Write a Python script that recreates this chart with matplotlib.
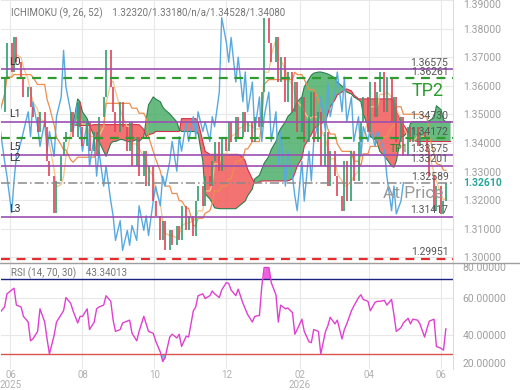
import numpy as np
import pandas as pd
import matplotlib
matplotlib.use('Agg')
import matplotlib.pyplot as plt
from matplotlib.lines import Line2D
from matplotlib.transforms import blended_transform_factory

plt.rcParams['font.family'] = ['Roboto', 'DejaVu Sans']

# closes, one point every 2 trading days
close = [1.3509, 1.3630, 1.3751, 1.3648, 1.3769, 1.3682, 1.3630, 1.3561, 1.3596, 1.3526,
         1.3492, 1.3440, 1.3509, 1.3457, 1.3336, 1.3284, 1.3156, 1.3267, 1.3353, 1.3405,
         1.3440, 1.3509, 1.3422, 1.3544, 1.3457, 1.3388, 1.3474, 1.3371, 1.3440, 1.3353,
         1.3492, 1.3561, 1.3724, 1.3596, 1.3509, 1.3440, 1.3544, 1.3457, 1.3371, 1.3474,
         1.3319, 1.3422, 1.3284, 1.3371, 1.3249, 1.3319, 1.3197, 1.3145, 1.3059, 1.3128,
         1.3024, 1.3094, 1.3042, 1.3111, 1.3059, 1.3180, 1.3094, 1.3145, 1.3076, 1.3197,
         1.3249, 1.3180, 1.3284, 1.3249, 1.3336, 1.3405, 1.3301, 1.3422, 1.3371, 1.3474,
         1.3405, 1.3492, 1.3422, 1.3509, 1.3440, 1.3474, 1.3405, 1.3492, 1.3457, 1.3578,
         1.3838, 1.3751, 1.3682, 1.3769, 1.3613, 1.3700, 1.3544, 1.3648, 1.3509, 1.3613,
         1.3440, 1.3561, 1.3405, 1.3492, 1.3578, 1.3405, 1.3509, 1.3319, 1.3440, 1.3249,
         1.3371, 1.3284, 1.3215, 1.3163, 1.3336, 1.3197, 1.3371, 1.3267, 1.3405, 1.3474,
         1.3561, 1.3440, 1.3613, 1.3492, 1.3578, 1.3648, 1.3509, 1.3630, 1.3474, 1.3561,
         1.3405, 1.3492, 1.3353, 1.3457, 1.3405, 1.3457, 1.3388, 1.3440, 1.3422, 1.3371,
         1.3284, 1.3163, 1.3249, 1.3152, 1.3197, 1.3261]

# ichimoku cloud edges as drawn (already displaced), same spacing, one extra point
nan = np.nan
span_a = [nan] * 22 + [
    1.3464, 1.3554, 1.3544, 1.3509, 1.3485, 1.3461, 1.3422, 1.3412, 1.3405, 1.3371,
    1.3353, 1.3398, 1.3405, 1.3405, 1.3412, 1.3412, 1.3405, 1.3405, 1.3405, 1.3412,
    1.3405, 1.3422, 1.3481, 1.3533, 1.3561, 1.3554, 1.3544, 1.3526, 1.3516, 1.3502,
    1.3492, 1.3474, 1.3447, 1.3440, 1.3440, 1.3440, 1.3440, 1.3440, 1.3433, 1.3336,
    1.3222, 1.3204, 1.3190, 1.3173, 1.3170, 1.3170, 1.3170, 1.3170, 1.3170, 1.3170,
    1.3177, 1.3190, 1.3197, 1.3215, 1.3239, 1.3274, 1.3287, 1.3308, 1.3329, 1.3353,
    1.3377, 1.3405, 1.3433, 1.3450, 1.3474, 1.3492, 1.3509, 1.3526, 1.3544, 1.3561,
    1.3596, 1.3623, 1.3637, 1.3644, 1.3648, 1.3648, 1.3644, 1.3641, 1.3637, 1.3627,
    1.3613, 1.3599, 1.3589, 1.3578, 1.3571, 1.3561, 1.3551, 1.3544, 1.3502, 1.3457,
    1.3422, 1.3412, 1.3398, 1.3371, 1.3353, 1.3343, 1.3319, 1.3315, 1.3336, 1.3422,
    1.3422, 1.3440, 1.3468, 1.3474, 1.3474, 1.3474, 1.3474, 1.3474, 1.3478, 1.3488,
    1.3530, 1.3516, 1.3481, 1.3474, 1.3474]
span_b = [nan] * 22 + [
    1.3464, 1.3461, 1.3461, 1.3461, 1.3461, 1.3461, 1.3464, 1.3464, 1.3464, 1.3464,
    1.3464, 1.3464, 1.3464, 1.3464, 1.3464, 1.3464, 1.3464, 1.3464, 1.3464, 1.3464,
    1.3464, 1.3447, 1.3422, 1.3429, 1.3433, 1.3440, 1.3440, 1.3440, 1.3440, 1.3440,
    1.3440, 1.3440, 1.3440, 1.3485, 1.3485, 1.3485, 1.3485, 1.3485, 1.3474, 1.3405,
    1.3371, 1.3360, 1.3360, 1.3360, 1.3360, 1.3360, 1.3360, 1.3360, 1.3360, 1.3360,
    1.3360, 1.3350, 1.3336, 1.3308, 1.3274, 1.3260, 1.3263, 1.3267, 1.3267, 1.3267,
    1.3267, 1.3267, 1.3267, 1.3267, 1.3267, 1.3267, 1.3274, 1.3294, 1.3319, 1.3346,
    1.3388, 1.3416, 1.3429, 1.3447, 1.3464, 1.3468, 1.3474, 1.3502, 1.3526, 1.3551,
    1.3568, 1.3578, 1.3585, 1.3589, 1.3582, 1.3568, 1.3554, 1.3554, 1.3554, 1.3554,
    1.3554, 1.3554, 1.3554, 1.3554, 1.3554, 1.3554, 1.3554, 1.3544, 1.3516, 1.3474,
    1.3464, 1.3440, 1.3412, 1.3409, 1.3405, 1.3405, 1.3405, 1.3405, 1.3405, 1.3405,
    1.3405, 1.3405, 1.3405, 1.3405, 1.3405]

rsi = [52, 55, 62, 64, 65, 56, 55, 50, 47, 37,
       38, 42, 54, 47, 38, 30, 40, 47, 51, 53,
       60, 57, 53, 46.5, 50, 50, 54, 43, 47, 54,
       55, 56, 61, 58, 48, 42, 43, 46.5, 47.5, 48,
       41, 37, 42, 50, 46, 42, 41, 37, 31, 26,
       28, 39, 40.5, 38.5, 40.5, 34, 39.5, 39, 53, 55,
       61, 62, 59.5, 61, 63.5, 62, 60, 64, 68, 67.5,
       64, 61, 64.5, 57, 54, 51, 47, 50, 50.5, 66,
       76, 76, 68, 61.5, 47, 56, 54, 54.5, 52, 40.5,
       43, 48.5, 42, 36.5, 36, 43, 42, 30, 42, 45,
       49.5, 46, 48, 38, 43, 46, 53, 55.5, 60, 61.5,
       59, 58, 53, 57.5, 58, 58, 58.5, 56, 59, 51,
       42, 44, 46.5, 49, 46, 48.5, 48, 46, 39, 43.5,
       47.5, 48.5, 34, 33, 32, 43.34]

level_names = ['L0', 'L1', 'L5', 'L2', 'L3']
levels = [1.36575, 1.34730, 1.33575, 1.33201, 1.31417]
tp_levels = [1.36261, 1.34172]
stop_level = 1.29951
at_price = 1.32589
last_price = 1.32610

step = 2  # each point = 2 trading days
t_win, k_win, lag = 9 // step, 26 // step, 26 // step

n = len(close)
dates = pd.date_range('2025-05-23', periods=len(span_a), freq='2B')
d = dates[:n]
s = pd.Series(close)

def mid(w):
    return (s.rolling(w, min_periods=1).max() + s.rolling(w, min_periods=1).min()) / 2

tenkan = mid(t_win)
kijun = mid(k_win)
sa = np.array(span_a)
sb = np.array(span_b)

fig = plt.figure(figsize=(5.2, 3.9), dpi=100)
ax = fig.add_axes([0.002, 1 - 263 / 390, 0.869, 263 / 390])
ax2 = fig.add_axes([0.002, 1 - 369 / 390, 0.869, 106 / 390], sharex=ax)

# cloud
ax.fill_between(dates, sa, sb, where=sa >= sb, interpolate=True,
                color='#4caf6a', alpha=0.85, lw=0, zorder=1)
ax.fill_between(dates, sa, sb, where=sa < sb, interpolate=True,
                color='#f25a5a', alpha=0.85, lw=0, zorder=1)
ax.plot(dates, sa, color='#2e7d4f', lw=0.8, zorder=2)
ax.plot(dates, sb, color='#d32f4f', lw=0.8, zorder=2)

ax.plot(d, tenkan, color='#f6c58a', lw=0.9, zorder=2)
ax.plot(d, kijun, color='#ec8f4e', lw=0.9, zorder=2)
ax.plot(d[:-lag], close[lag:], color='#58a9e0', lw=1.0, zorder=3)

# candles (open = previous close)
o = np.r_[close[0], close[:-1]]
c = np.array(close)
cols = np.where(c >= o, '#2e9e6e', '#e0435a')
ax.vlines(d, o, c, colors=cols, lw=1.2, zorder=4)

# levels
for lv in levels:
    ax.axhline(lv, color='#9b4fb0', lw=1.2, zorder=5)
for lv in tp_levels:
    ax.axhline(lv, color='#2e9b2e', lw=1.6, ls=(0, (4, 3)), zorder=5)
ax.axhline(stop_level, color='#e52b2b', lw=1.6, ls=(0, (4, 3)), zorder=5)
ax.axhline(at_price, color='#8a8a8a', lw=1.1, ls=(0, (6, 2, 1, 2)), zorder=5)

lt = blended_transform_factory(ax.transAxes, ax.transData)
for name, lv in zip(level_names, levels):
    ax.annotate(name, (0.018, lv), xycoords=lt, xytext=(0, 2), textcoords='offset points',
                fontsize=7.5, color='#333333', va='bottom', zorder=6)
for lv in levels + tp_levels + [at_price, stop_level]:
    ax.annotate('%.5f' % lv, (0.99, lv), xycoords=lt, xytext=(0, 1), textcoords='offset points',
                fontsize=7.5, color='#555555', ha='right', va='bottom', zorder=6)
ax.annotate('TP2', (0.98, tp_levels[0]), xycoords=lt, xytext=(0, -3), textcoords='offset points',
            fontsize=13, color='#2e9b2e', ha='right', va='top', zorder=6)
ax.annotate('TP1', (0.88, levels[2]), xycoords=lt, xytext=(0, 1), textcoords='offset points',
            fontsize=7.5, color='#2e8b2e', ha='center', va='bottom', zorder=7)
ax.annotate('At Price', (0.98, at_price), xycoords=lt, xytext=(0, -2), textcoords='offset points',
            fontsize=12.5, color='#9a9a9a', ha='right', va='top', zorder=6)
ax.text(1.022, last_price, '%.5f' % last_price, transform=lt, fontsize=7.5,
        color='#26a69a', weight='bold', va='center', ha='left')
ax.text(0.022, 0.95, 'ICHIMOKU (9, 26, 52)    1.32320/1.33180/n/a/1.34528/1.34080',
        transform=ax.transAxes, fontsize=7, color='#757575', va='center')

# RSI
ax2.plot(d, rsi, color='#e040d0', lw=1.0, zorder=3)
r = np.array(rsi)
ax2.fill_between(d, r, 70, where=r > 70, interpolate=True, color='#f060e0', lw=0)
ax2.fill_between(d, r, 30, where=r < 30, interpolate=True, color='#6cc8f0', lw=0)
ax2.axhline(70, color='#1a237e', lw=1)
ax2.axhline(30, color='#d9534f', lw=1)
ax2.text(0.022, 0.9, 'RSI (14, 70, 30)    43.34013', transform=ax2.transAxes,
         fontsize=7, color='#757575', va='center')

# axes styling
ax.set_ylim(1.298, 1.390)
ax.set_yticks(np.arange(1.30, 1.3901, 0.01))
ax.yaxis.set_major_formatter(matplotlib.ticker.FormatStrFormatter('%.5f'))
ax2.set_ylim(22, 78.4)
ax2.set_yticks([40, 60])
ax2.yaxis.set_major_formatter(matplotlib.ticker.FormatStrFormatter('%.5f'))
ax.set_xlim(pd.Timestamp('2025-05-24'), pd.Timestamp('2026-06-11'))
# end labels of the RSI scale sit just inside the pane
for val, yf, va in ((80, 1.0, 'top'), (20, 0.0, 'bottom')):
    ax2.annotate('%.5f' % val, (1.0, yf), xycoords='axes fraction', xytext=(7, 0),
                 textcoords='offset points', fontsize=7.5, color='#9e9e9e', va=va)

xt = pd.to_datetime(['2025-06-01', '2025-08-01', '2025-10-01', '2025-12-01',
                     '2026-02-01', '2026-04-01', '2026-06-01'])
ax2.set_xticks(xt)
ax2.set_xticklabels(['06\n2025', '08', '10', '12', '02\n2026', '04', '06'])

for a in (ax, ax2):
    a.yaxis.tick_right()
    a.tick_params(length=0, labelsize=7.5, labelcolor='#9e9e9e', pad=7)
    a.grid(color='#e8e8e8', lw=0.8, zorder=0)
    a.set_axisbelow(True)
    for sp in ('top', 'left', 'bottom'):
        a.spines[sp].set_visible(False)
    a.spines['right'].set_color('#dddddd')
ax.tick_params(axis='x', labelbottom=False)
ax2.tick_params(axis='x', pad=1, labelsize=7, labelcolor='#b0b0b0')

fig.canvas.draw()
ax.get_yticklabels()[-1].set_verticalalignment('top')
for t in ax2.get_xticklabels():
    t.set_linespacing(0.9)

fig.add_artist(Line2D([0, 1], [1 - 263 / 390] * 2, color='#9e9e9e', lw=1))

fig.savefig('out.png', dpi=100)
